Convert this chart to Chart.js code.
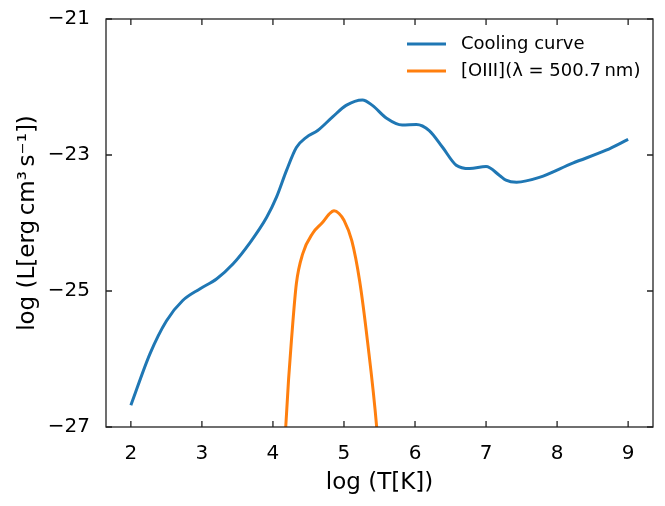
<!DOCTYPE html>
<html>
<head>
<meta charset="utf-8">
<script src="https://cdn.jsdelivr.net/npm/chart.js@4/dist/chart.umd.min.js"></script>
<style>
  html, body { margin: 0; padding: 0; background: #fff; }
  #wrap { width: 665px; height: 506px; }
</style>
</head>
<body>
<div id="wrap"><canvas id="c" width="665" height="506"></canvas></div>
<script>
const coolingX = [2, 2.27, 2.5, 2.73, 2.97, 3.21, 3.44, 3.67, 3.91, 4.05, 4.19, 4.33, 4.47, 4.63, 4.84, 5.03, 5.26, 5.40, 5.60, 5.82, 6.02, 6.20, 6.39, 6.58, 6.77, 7.0, 7.19, 7.28, 7.43, 7.75, 8.22, 8.69, 9.0];
const coolingY = [-26.68, -25.92, -25.44, -25.14, -24.97, -24.82, -24.6, -24.30, -23.92, -23.62, -23.23, -22.89, -22.74, -22.64, -22.44, -22.27, -22.19, -22.27, -22.46, -22.56, -22.55, -22.64, -22.89, -23.15, -23.20, -23.17, -23.30, -23.37, -23.40, -23.33, -23.12, -22.93, -22.77];
const oiiiX = [4.16, 4.18, 4.22, 4.26, 4.33, 4.42, 4.56, 4.70, 4.79, 4.86, 4.93, 5.00, 5.11, 5.22, 5.33, 5.46, 5.48];
const oiiiY = [-27.4, -27.0, -26.3, -25.73, -24.89, -24.45, -24.15, -23.99, -23.87, -23.82, -23.86, -23.96, -24.26, -24.85, -25.73, -27.0, -27.3];
const xTicks = [2, 3, 4, 5, 6, 7, 8, 9];
const yTicks = [-27, -25, -23, -21];
const seriesLabels = ['Cooling curve', '[OIII](\u03bb = 500.7\u2009nm)'];
const seriesColors = ['#1f77b4', '#ff7f0e'];

const FONT = "'DejaVu Sans', sans-serif";

const framePlugin = {
  id: 'frame',
  afterDatasetsDraw(chart) {
    const {ctx, chartArea: a, scales} = chart;
    ctx.save();
    ctx.strokeStyle = '#222';
    ctx.lineWidth = 1.3;
    ctx.strokeRect(a.left, a.top, a.right - a.left, a.bottom - a.top);
    const tl = 6;
    ctx.beginPath();
    xTicks.forEach(v => {
      const px = scales.x.getPixelForValue(v);
      ctx.moveTo(px, a.bottom); ctx.lineTo(px, a.bottom - tl);
      ctx.moveTo(px, a.top); ctx.lineTo(px, a.top + tl);
    });
    yTicks.forEach(v => {
      const py = scales.y.getPixelForValue(v);
      ctx.moveTo(a.left, py); ctx.lineTo(a.left + tl, py);
      ctx.moveTo(a.right, py); ctx.lineTo(a.right - tl, py);
    });
    ctx.stroke();

    // legend
    ctx.font = '18px ' + FONT;
    ctx.textBaseline = 'middle';
    ctx.textAlign = 'left';
    chart.data.datasets.forEach((ds, i) => {
      const y = 44 + i * 27;
      ctx.strokeStyle = ds.borderColor;
      ctx.lineWidth = 3;
      ctx.beginPath();
      ctx.moveTo(407, y); ctx.lineTo(446, y);
      ctx.stroke();
      ctx.fillStyle = '#000';
      ctx.fillText(ds.label, 461, y);
    });
    ctx.restore();
  }
};

new Chart(document.getElementById('c'), {
  type: 'line',
  data: {
    datasets: [
      {
        label: seriesLabels[0],
        data: coolingX.map((x, i) => ({x, y: coolingY[i]})),
        borderColor: seriesColors[0],
        borderWidth: 3,
        pointRadius: 0,
        cubicInterpolationMode: 'monotone',
        clip: 0,
        fill: false
      },
      {
        label: seriesLabels[1],
        data: oiiiX.map((x, i) => ({x, y: oiiiY[i]})),
        borderColor: seriesColors[1],
        borderWidth: 3,
        pointRadius: 0,
        cubicInterpolationMode: 'monotone',
        clip: 0,
        fill: false
      }
    ]
  },
  options: {
    responsive: false,
    animation: false,
    devicePixelRatio: 1,
    layout: { padding: { top: 19, right: 12, left: 0, bottom: 0 } },
    plugins: { legend: { display: false }, tooltip: { enabled: false } },
    scales: {
      x: {
        type: 'linear',
        min: 1.65,
        max: 9.35,
        grid: { display: false, drawTicks: false },
        border: { display: false },
        afterBuildTicks: s => { s.ticks = xTicks.map(v => ({value: v})); },
        afterFit: s => { s.height = 79; s.paddingLeft = 0; s.paddingRight = 0; },
        ticks: {
          padding: 15,
          color: '#000',
          font: { family: FONT, size: 20 },
          callback: v => String(v),
          maxRotation: 0
        },
        title: {
          display: true,
          text: 'log (T[K])',
          color: '#000',
          font: { family: FONT, size: 23 },
          padding: { top: 0, bottom: 9 }
        }
      },
      y: {
        type: 'linear',
        min: -27,
        max: -21,
        grid: { display: false, drawTicks: false },
        border: { display: false },
        afterBuildTicks: s => { s.ticks = yTicks.map(v => ({value: v})); },
        afterFit: s => { s.width = 106; s.paddingTop = 0; s.paddingBottom = 0; },
        ticks: {
          padding: 16,
          color: '#000',
          font: { family: FONT, size: 20 },
          callback: v => (v < 0 ? '\u2212' + Math.abs(v) : String(v))
        },
        title: {
          display: true,
          text: 'log (L[erg\u2009cm\u00b3\u2009s\u207b\u00b9])',
          color: '#000',
          font: { family: FONT, size: 23 },
          padding: { top: 14, bottom: 0 }
        }
      }
    }
  },
  plugins: [framePlugin]
});
</script>
</body>
</html>
